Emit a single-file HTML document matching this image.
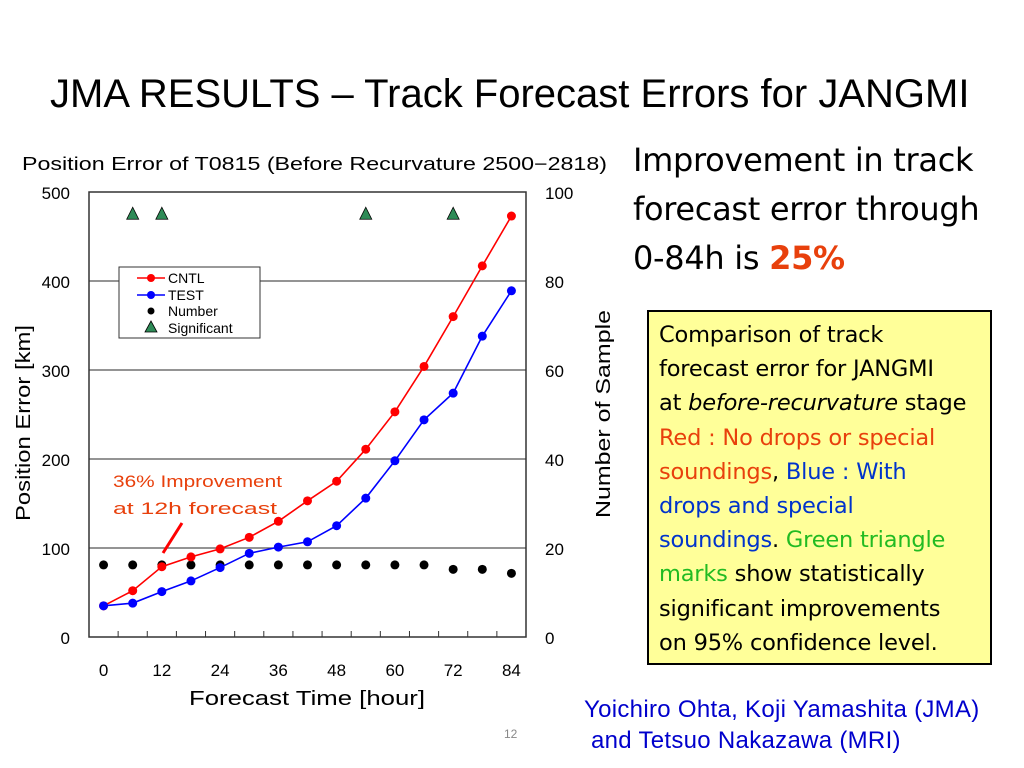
<!DOCTYPE html>
<html><head><meta charset="utf-8"><style>
body{margin:0;background:#fff;width:1024px;height:768px;overflow:hidden;position:relative;font-family:"Liberation Sans","Noto Sans CJK JP",sans-serif}
.abs{position:absolute;white-space:nowrap}
</style></head><body>
<div class="abs" style="left:50px;top:72px;font-size:40px;color:#000">JMA RESULTS – Track Forecast Errors for JANGMI</div>
<div class="abs" style="left:633px;top:136px;font-size:32px;line-height:49px;font-family:'DejaVu Sans',sans-serif;letter-spacing:-0.3px">Improvement in track<br>forecast error through<br>0-84h is <b style="color:#e8400c">25%</b></div>
<div class="abs" style="left:647px;top:310px;width:331px;height:345px;background:#ffff99;border:2px solid #000;padding:6px 0 0 10px;font-size:22.5px;line-height:34.2px;font-family:'DejaVu Sans',sans-serif;letter-spacing:-0.2px;white-space:normal">Comparison of track<br>forecast error for JANGMI<br>at <i>before-recurvature</i> stage<br><span style="color:#e8400c">Red : No drops or special<br>soundings</span>, <span style="color:#0033cc">Blue : With<br>drops and special<br>soundings</span>. <span style="color:#22bb22">Green triangle<br>marks</span> show statistically<br>significant improvements<br>on 95% confidence level.</div>
<div class="abs" style="left:584px;top:694px;font-size:24px;line-height:31px;color:#0000cc;letter-spacing:0.3px">Yoichiro Ohta, Koji Yamashita (JMA)<br>&nbsp;and Tetsuo Nakazawa (MRI)</div>
<div class="abs" style="left:504px;top:727px;font-size:12px;color:#888">12</div>
<svg id="chart" width="1024" height="768" style="position:absolute;left:0;top:0" font-family="Liberation Sans, Noto Sans CJK JP, sans-serif"></svg>
<script>
const hours=[0,6,12,18,24,30,36,42,48,54,60,66,72,78,84];
const cntl=[35,52,79,90,99,112,130,153,175,211,253,304,360,417,473];
const test=[35,38,51,63,78,94,101,107,125,156,198,244,274,338,389];
const number=[16.2,16.2,16.2,16.2,16.2,16.2,16.2,16.2,16.2,16.2,16.2,16.2,15.2,15.2,14.3];
const significant=[6,12,54,72];
const sigLevel=95;
const yTicks=[0,100,200,300,400,500];
const y2Ticks=[0,20,40,60,80,100];
const xLabels=[0,12,24,36,48,60,72,84];
const L=89,R=526,T=192,B=637;
const step=(R-L)/hours.length;
const x=h=>L+step*(h/6+0.5);
const y=v=>B-(v/500)*(B-T);
const y2=v=>B-(v/100)*(B-T);
const svg=document.getElementById('chart');
const NS='http://www.w3.org/2000/svg';
function mk(tag,attrs,parent){const e=document.createElementNS(NS,tag);for(const k in attrs)e.setAttribute(k,attrs[k]);(parent||svg).appendChild(e);return e;}
function txt(s,attrs){const e=mk('text',attrs);e.textContent=s;return e;}
let t=txt('Position Error of T0815 (Before Recurvature 2500−2818)',{x:22,y:170,'font-size':18,textLength:585,lengthAdjust:'spacingAndGlyphs'});


yTicks.forEach(v=>{
 if(v>0&&v<500){const g=mk('line',{x1:L,x2:R,y1:y(v),y2:y(v),stroke:'#555','stroke-width':1.2});
 
 }
 const l=txt(v,{x:70,y:y(v)+7,'font-size':17,'text-anchor':'end'});
 
 
});
y2Ticks.forEach(v=>{const l=txt(v,{x:545,y:y2(v)+7,'font-size':17});
 
 });
const box=mk('rect',{x:L,y:T,width:R-L,height:B-T,fill:'none',stroke:'#333','stroke-width':1.5});


for(let i=1;i<hours.length;i++){const tk=mk('line',{x1:L+step*i,x2:L+step*i,y1:B,y2:B-6,stroke:'#333'});
 
 }
xLabels.forEach(h=>{const l=txt(h,{x:x(h),y:676,'font-size':17,'text-anchor':'middle'});
 
 });
let a=txt('Forecast Time [hour]',{x:189,y:705,'font-size':20,textLength:236,lengthAdjust:'spacingAndGlyphs'});


a=txt('Position Error [km]',{x:-98,y:0,'font-size':20,textLength:196,lengthAdjust:'spacingAndGlyphs',transform:'translate(30,423) rotate(-90)'});


a=txt('Number of Sample',{x:-104,y:0,'font-size':20,textLength:208,lengthAdjust:'spacingAndGlyphs',transform:'translate(610,414) rotate(-90)'});


number.forEach((v,i)=>{const c=mk('circle',{cx:x(hours[i]),cy:y2(v),r:4.5,fill:'#000'});
 
 });
function series(vals,col,name){
 const p=mk('polyline',{points:vals.map((v,i)=>x(hours[i])+','+y(v)).join(' '),fill:'none',stroke:col,'stroke-width':1.6});
 
 
 vals.forEach((v,i)=>{const c=mk('circle',{cx:x(hours[i]),cy:y(v),r:4.5,fill:col});
  
  });
}
series(cntl,'#ff0000','cntl');
series(test,'#0000ff','test');
significant.forEach(h=>{const cx=x(h),cy=y2(sigLevel);
 const tr=mk('polygon',{points:`${cx},${cy-7} ${cx-6},${cy+5} ${cx+6},${cy+5}`,fill:'#2e8b57',stroke:'#000','stroke-width':0.8});
 
 });
const lg=mk('g',{});


mk('rect',{x:119,y:267,width:141,height:71,fill:'#fff',stroke:'#333'},lg);
[['CNTL','#ff0000',278],['TEST','#0000ff',295]].forEach(([n,c,yy])=>{
 mk('line',{x1:137,x2:165,y1:yy,y2:yy,stroke:c,'stroke-width':1.6},lg);
 mk('circle',{cx:151,cy:yy,r:4,fill:c},lg);
 const e=mk('text',{x:168,y:yy+5,'font-size':14},lg);e.textContent=n;});
mk('circle',{cx:151,cy:311,r:3.5,fill:'#000'},lg);
let e=mk('text',{x:168,y:316,'font-size':14},lg);e.textContent='Number';
mk('polygon',{points:'151,321 145,332 157,332',fill:'#2e8b57',stroke:'#000','stroke-width':0.8},lg);
e=mk('text',{x:168,y:333,'font-size':14},lg);e.textContent='Significant';
a=txt('36% Improvement',{x:113,y:487,'font-size':17,fill:'#e8400c',textLength:169,lengthAdjust:'spacingAndGlyphs'});


a=txt('at 12h forecast',{x:113,y:514,'font-size':17,fill:'#e8400c',textLength:164,lengthAdjust:'spacingAndGlyphs'});


const al=mk('line',{x1:182,y1:523,x2:163,y2:553,stroke:'#ff0000','stroke-width':3});


</script>
</body></html>
